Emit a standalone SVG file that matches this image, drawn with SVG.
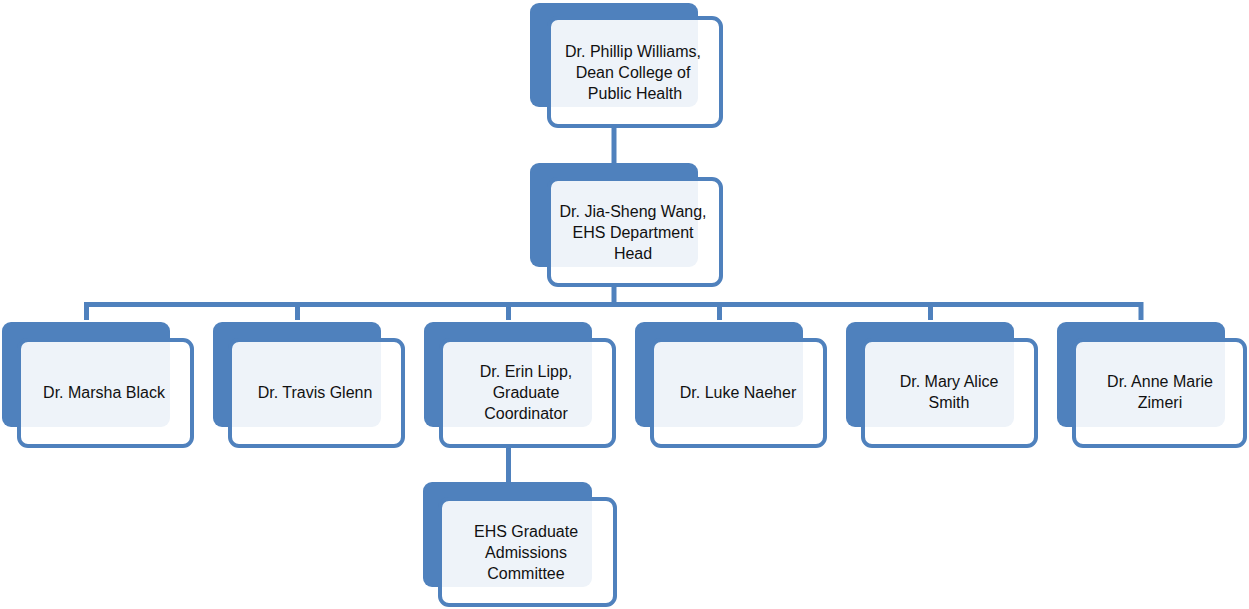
<svg xmlns="http://www.w3.org/2000/svg" width="1249" height="609" viewBox="0 0 1249 609">
<style>
.back{fill:#4F81BD}
.front{fill:#FFFFFF;fill-opacity:0.9;stroke:#4F81BD;stroke-width:4}
.lbl{font-family:"Liberation Sans",Arial,sans-serif;font-size:16px;fill:#111;text-anchor:middle}
.con{stroke:#4F81BD;stroke-width:5;fill:none}
</style>
<rect width="1249" height="609" fill="#FFFFFF"/>
<g id="connectors">
<line class="con" x1="614" y1="128" x2="614" y2="163"/>
<line class="con" x1="614" y1="287" x2="614" y2="304.5"/>
<path class="con" d="M86.5 320 V304.5 H1141 V320"/>
<line class="con" x1="297.5" y1="304.5" x2="297.5" y2="320"/>
<line class="con" x1="508.5" y1="304.5" x2="508.5" y2="320"/>
<line class="con" x1="719.5" y1="304.5" x2="719.5" y2="320"/>
<line class="con" x1="930.5" y1="304.5" x2="930.5" y2="320"/>
<line class="con" x1="508.5" y1="448" x2="508.5" y2="482"/>
</g>
<g id="n-williams">
<rect class="back" x="530" y="3" width="168" height="104" rx="9"/>
<rect class="front" x="549" y="18" width="172" height="108" rx="9"/>
<text class="lbl" x="633" y="57">Dr. Phillip Williams,</text>
<text class="lbl" x="633" y="78">Dean College of</text>
<text class="lbl" x="635" y="99">Public Health</text>
</g>
<g id="n-wang">
<rect class="back" x="530" y="163" width="168" height="104" rx="9"/>
<rect class="front" x="549" y="179" width="172" height="106" rx="9"/>
<text class="lbl" x="633" y="217">Dr. Jia-Sheng Wang,</text>
<text class="lbl" x="633" y="238">EHS Department</text>
<text class="lbl" x="633" y="259">Head</text>
</g>
<g id="n-black">
<rect class="back" x="2" y="322" width="168" height="105" rx="9"/>
<rect class="front" x="19" y="340" width="173" height="106" rx="9"/>
<text class="lbl" x="104" y="398">Dr. Marsha Black</text>
</g>
<g id="n-glenn">
<rect class="back" x="213" y="322" width="168" height="105" rx="9"/>
<rect class="front" x="230" y="340" width="173" height="106" rx="9"/>
<text class="lbl" x="315" y="398">Dr. Travis Glenn</text>
</g>
<g id="n-lipp">
<rect class="back" x="424" y="322" width="168" height="105" rx="9"/>
<rect class="front" x="441" y="340" width="173" height="106" rx="9"/>
<text class="lbl" x="526" y="377">Dr. Erin Lipp,</text>
<text class="lbl" x="526" y="398">Graduate</text>
<text class="lbl" x="526" y="419">Coordinator</text>
</g>
<g id="n-naeher">
<rect class="back" x="635" y="322" width="168" height="105" rx="9"/>
<rect class="front" x="652" y="340" width="173" height="106" rx="9"/>
<text class="lbl" x="738" y="398">Dr. Luke Naeher</text>
</g>
<g id="n-smith">
<rect class="back" x="846" y="322" width="168" height="105" rx="9"/>
<rect class="front" x="863" y="340" width="173" height="106" rx="9"/>
<text class="lbl" x="949" y="387">Dr. Mary Alice</text>
<text class="lbl" x="949" y="408">Smith</text>
</g>
<g id="n-zimeri">
<rect class="back" x="1057" y="322" width="168" height="105" rx="9"/>
<rect class="front" x="1074" y="340" width="171" height="106" rx="9"/>
<text class="lbl" x="1160" y="387">Dr. Anne Marie</text>
<text class="lbl" x="1160" y="408">Zimeri</text>
</g>
<g id="n-committee">
<rect class="back" x="423" y="482" width="169" height="105" rx="9"/>
<rect class="front" x="440" y="499" width="175" height="106" rx="9"/>
<text class="lbl" x="526" y="537">EHS Graduate</text>
<text class="lbl" x="526" y="558">Admissions</text>
<text class="lbl" x="526" y="579">Committee</text>
</g>
</svg>
